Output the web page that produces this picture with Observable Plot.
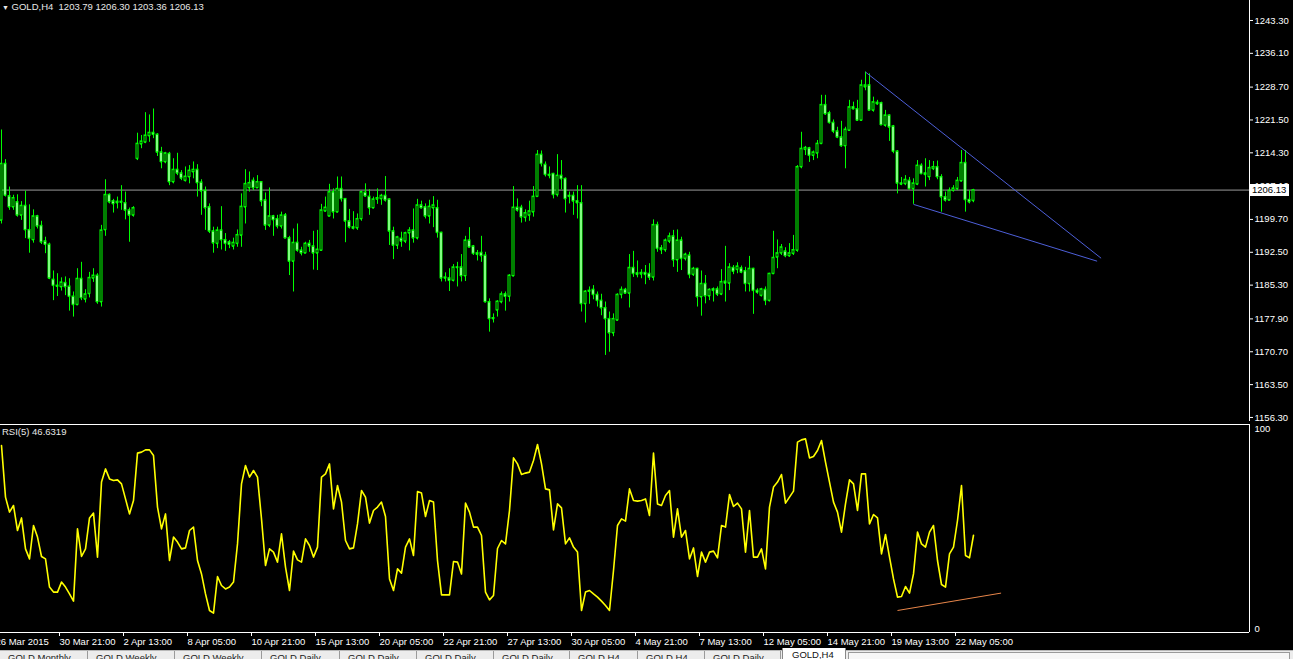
<!DOCTYPE html>
<html><head><meta charset="utf-8">
<script src="https://cdn.jsdelivr.net/npm/d3@7"></script>
<script src="https://cdn.jsdelivr.net/npm/@observablehq/plot@0.6"></script>
<style>
html,body{margin:0;padding:0;background:#000;width:1293px;height:659px;overflow:hidden;font-family:"Liberation Sans",Arial,sans-serif;}
#wrap{position:relative;width:1293px;height:659px;overflow:hidden;}
.abs{position:absolute;white-space:nowrap;}
.tab{position:absolute;top:0;height:12px;font-size:9.5px;color:#222;padding-left:8px;line-height:13px;border-right:1px solid #9a9a9a;box-sizing:border-box;}
</style></head><body><div id="wrap"></div>
<script>
// ---- data: GOLD H4 candles (bar index 0..243) ----
const open = [
1199.5,1211.9,1204.8,1202.4,1203.5,1200.6,1202.7,1197.4,1195.2,1200.4,
1198.3,1194.9,1194.2,1186.5,1185.2,1184.9,1185.8,1185.0,1182.8,1181.0,
1186.7,1182.2,1183.4,1186.8,1187.4,1181.6,1197.4,1205.1,1203.7,1203.3,
1203.6,1203.3,1201.7,1200.6,1213.0,1216.2,1216.6,1218.0,1218.7,1218.3,
1214.4,1212.3,1214.1,1207.9,1210.6,1209.8,1208.2,1209.0,1210.1,1210.6,
1207.8,1206.0,1202.4,1197.1,1194.4,1197.3,1195.2,1194.7,1193.8,1194.4,
1196.2,1202.4,1206.6,1208.2,1206.6,1207.9,1203.9,1198.4,1200.4,1199.8,
1198.2,1200.6,1195.6,1190.5,1194.6,1192.9,1192.3,1194.4,1193.8,1192.3,
1192.9,1201.5,1200.4,1205.7,1201.3,1206.4,1204.2,1199.3,1198.0,1197.8,
1199.8,1205.6,1204.7,1202.2,1204.1,1204.2,1204.9,1204.1,1197.1,1194.0,
1195.5,1194.9,1196.7,1197.3,1195.6,1202.8,1202.4,1200.4,1202.2,1202.2,
1196.8,1186.8,1186.8,1186.3,1189.2,1189.2,1187.3,1195.1,1193.8,1192.3,
1192.4,1191.8,1181.6,1177.9,1179.8,1181.6,1183.3,1182.8,1187.3,1202.3,
1202.3,1200.1,1200.6,1201.3,1204.7,1213.9,1211.7,1209.5,1209.7,1205.1,
1209.3,1208.6,1204.7,1204.9,1203.7,1203.3,1181.2,1183.9,1184.3,1183.2,
1181.9,1180.3,1177.9,1174.8,1177.6,1183.2,1184.3,1183.5,1189.1,1187.9,
1187.7,1188.0,1187.8,1187.0,1198.5,1193.4,1193.0,1194.9,1196.0,1190.8,
1195.1,1191.1,1191.8,1187.6,1188.9,1182.7,1185.6,1182.9,1184.4,1184.4,
1183.3,1186.1,1185.7,1189.1,1188.7,1189.0,1188.4,1185.6,1188.9,1184.1,
1183.0,1184.3,1181.9,1187.8,1191.4,1192.3,1192.7,1191.7,1192.2,1192.9,
1211.2,1215.0,1215.3,1213.7,1214.2,1216.3,1224.8,1223.0,1220.9,1219.0,
1217.7,1215.8,1219.2,1224.3,1223.9,1221.4,1228.7,1229.1,1223.6,1225.3,
1225.2,1220.3,1222.5,1220.1,1214.6,1207.6,1207.5,1208.2,1206.4,1207.4,
1211.5,1209.8,1209.0,1210.8,1211.2,1209.0,1204.6,1203.9,1206.0,1206.4,
1208.1,1212.1,1204.0,1203.79];
const high = [
1219.3,1212.8,1206.8,1205.0,1205.1,1203.6,1205.9,1202.9,1201.8,1200.6,
1199.3,1195.8,1194.5,1188.4,1187.8,1186.9,1187.1,1186.7,1183.8,1188.9,
1190.3,1184.3,1188.1,1188.9,1187.8,1198.4,1208.4,1205.3,1204.1,1204.6,
1207.1,1205.7,1202.2,1202.5,1218.6,1218.1,1223.1,1222.6,1223.9,1218.5,
1215.5,1214.4,1214.4,1213.0,1214.2,1210.4,1211.2,1211.5,1212.3,1211.7,
1208.4,1206.8,1203.1,1198.0,1198.0,1202.5,1196.6,1195.1,1195.6,1197.4,
1205.3,1210.6,1210.1,1208.8,1209.3,1208.0,1205.5,1206.6,1200.6,1200.6,
1201.3,1201.0,1196.0,1197.6,1198.7,1193.6,1194.7,1195.1,1197.1,1197.3,
1203.0,1204.6,1207.4,1206.4,1209.0,1209.0,1204.2,1201.9,1201.4,1200.9,
1205.9,1207.5,1206.2,1204.6,1206.4,1205.2,1209.1,1204.2,1198.0,1196.0,
1196.9,1196.9,1197.9,1202.0,1204.1,1203.7,1203.1,1203.9,1204.7,1203.9,
1196.9,1188.0,1188.9,1189.8,1190.3,1192.0,1196.0,1197.9,1194.0,1192.9,
1196.0,1192.5,1182.3,1179.0,1181.9,1183.8,1183.8,1187.6,1206.9,1204.2,
1202.8,1201.8,1203.7,1206.9,1214.8,1214.7,1212.3,1211.2,1209.8,1213.9,
1212.6,1208.8,1205.7,1205.7,1207.1,1207.1,1184.1,1184.9,1185.2,1183.8,
1183.3,1181.6,1179.4,1179.0,1183.4,1184.9,1184.6,1192.0,1192.7,1190.6,
1188.7,1189.6,1190.0,1199.6,1199.1,1194.0,1195.4,1196.7,1197.3,1197.4,
1195.8,1192.3,1192.5,1189.2,1189.0,1188.4,1187.4,1184.5,1184.7,1184.9,
1188.7,1193.8,1190.0,1189.6,1190.2,1189.5,1189.2,1191.6,1189.0,1184.5,
1184.6,1184.9,1187.9,1197.1,1195.2,1194.2,1193.5,1194.4,1196.2,1211.5,
1218.8,1215.7,1215.5,1214.7,1217.0,1226.9,1226.9,1223.4,1221.5,1219.9,
1221.2,1219.9,1225.8,1225.4,1225.8,1230.2,1232.0,1231.6,1226.5,1225.8,
1225.4,1223.6,1222.6,1220.3,1214.8,1208.9,1209.3,1208.9,1208.6,1212.6,
1211.9,1213.0,1212.6,1212.4,1212.5,1209.5,1205.7,1206.6,1207.1,1208.9,
1214.8,1214.8,1206.0,1206.30];
const low = [
1198.7,1204.6,1201.7,1201.7,1200.2,1199.5,1195.5,1192.3,1194.5,1197.6,
1194.2,1192.2,1186.5,1181.9,1182.8,1184.0,1183.0,1179.6,1178.3,1180.8,
1181.9,1181.4,1182.5,1185.9,1181.1,1180.5,1196.0,1203.1,1201.1,1202.0,
1201.7,1199.6,1194.7,1200.2,1212.6,1215.2,1216.3,1216.6,1217.4,1213.5,
1210.8,1211.9,1207.1,1207.5,1209.3,1208.2,1207.9,1207.5,1208.6,1204.6,
1200.6,1197.3,1196.6,1192.3,1193.3,1193.0,1192.7,1193.3,1193.0,1193.6,
1193.6,1198.7,1205.7,1206.0,1206.6,1202.5,1197.3,1197.9,1196.0,1197.6,
1197.6,1195.5,1187.4,1183.8,1192.5,1191.7,1192.2,1192.5,1188.6,1188.5,
1192.8,1201.3,1200.3,1199.8,1201.1,1203.5,1194.6,1197.6,1197.4,1197.3,
1199.3,1204.6,1200.6,1202.0,1203.0,1202.8,1203.5,1194.0,1190.9,1193.1,
1193.6,1194.4,1192.8,1194.5,1195.2,1202.0,1199.8,1198.7,1197.9,1195.6,
1186.0,1186.0,1183.9,1186.0,1184.9,1186.0,1186.1,1193.5,1191.8,1190.6,
1190.3,1181.4,1175.0,1177.0,1178.3,1181.2,1179.6,1181.6,1187.1,1201.3,
1198.9,1199.1,1199.3,1200.2,1204.6,1211.2,1209.0,1208.6,1204.2,1204.6,
1206.2,1201.1,1203.1,1200.6,1199.8,1179.4,1177.0,1181.1,1182.1,1180.5,
1178.6,1169.9,1170.6,1174.0,1177.4,1182.3,1183.3,1180.3,1187.0,1186.9,
1186.7,1185.4,1186.3,1186.2,1192.5,1192.0,1192.5,1194.4,1189.2,1188.1,
1188.5,1190.6,1186.7,1187.2,1180.5,1178.5,1181.2,1181.9,1181.6,1182.8,
1183.0,1181.6,1184.1,1187.6,1187.8,1187.8,1183.8,1183.8,1178.9,1183.3,
1182.7,1180.8,1181.6,1187.6,1188.9,1191.8,1191.3,1191.4,1191.8,1192.5,
1210.8,1213.7,1212.2,1212.6,1213.0,1216.1,1222.5,1220.6,1218.5,1217.4,
1215.5,1210.8,1219.0,1223.7,1221.2,1221.2,1227.9,1223.6,1223.2,1224.7,
1220.3,1219.9,1216.8,1214.1,1205.3,1207.1,1207.1,1206.2,1203.0,1207.1,
1209.5,1206.8,1208.2,1210.4,1208.4,1201.3,1203.5,1203.9,1205.7,1206.0,
1207.9,1201.3,1203.1,1203.36];
const close = [
1211.9,1204.95,1202.4,1204.4,1200.6,1202.7,1197.4,1195.5,1200.4,1198.2,
1194.7,1194.2,1186.8,1185.2,1185.0,1185.9,1184.9,1182.8,1181.0,1186.7,
1182.5,1183.3,1186.9,1187.4,1181.6,1197.3,1205.1,1203.5,1203.1,1203.6,
1203.4,1201.7,1200.6,1202.2,1216.3,1216.8,1218.1,1218.7,1218.3,1214.4,
1212.3,1214.2,1207.9,1210.6,1209.8,1208.7,1209.1,1210.4,1210.6,1207.7,
1205.9,1202.2,1197.1,1194.5,1197.3,1195.2,1194.4,1194.2,1194.6,1196.3,
1202.5,1207.5,1207.7,1206.6,1207.9,1203.7,1198.4,1200.4,1199.6,1198.2,
1200.6,1195.6,1190.5,1194.6,1192.9,1192.3,1194.4,1193.8,1192.3,1193.1,
1201.7,1202.3,1205.7,1201.3,1206.4,1204.2,1199.3,1198.0,1197.7,1199.8,
1205.7,1204.8,1202.2,1204.1,1204.4,1204.9,1203.9,1197.1,1194.0,1195.8,
1194.9,1196.7,1197.3,1195.6,1202.8,1202.2,1200.4,1202.5,1202.8,1196.8,
1186.8,1187.0,1186.3,1189.2,1189.1,1187.3,1195.1,1193.6,1192.2,1192.0,
1191.7,1181.6,1177.9,1178.1,1181.7,1183.3,1182.8,1187.4,1202.3,1201.7,
1200.2,1201.1,1201.5,1204.7,1213.9,1211.9,1209.5,1209.3,1205.1,1209.3,
1208.6,1204.2,1204.9,1203.7,1203.3,1181.2,1183.9,1184.1,1183.2,1181.9,
1180.3,1177.9,1174.8,1177.9,1183.2,1184.3,1183.5,1189.1,1187.8,1187.6,
1188.0,1187.6,1187.0,1198.5,1193.3,1193.0,1195.1,1196.0,1190.8,1195.1,
1191.1,1192.0,1187.6,1188.9,1182.7,1185.6,1182.9,1184.3,1184.1,1183.3,
1186.0,1185.7,1189.2,1188.3,1189.4,1188.1,1185.6,1188.9,1184.1,1183.7,
1184.4,1181.9,1187.8,1191.3,1192.3,1193.6,1191.7,1192.3,1193.0,1211.2,
1215.2,1215.4,1213.7,1214.4,1216.3,1224.8,1222.8,1220.9,1219.0,1217.7,
1215.8,1219.4,1224.3,1223.9,1221.4,1229.1,1229.1,1223.6,1225.4,1225.0,
1220.4,1222.5,1219.9,1214.6,1207.6,1207.4,1208.4,1206.4,1207.6,1211.5,
1209.7,1209.5,1211.0,1211.2,1209.0,1204.6,1203.9,1206.0,1206.5,1208.2,
1212.1,1204.0,1203.5,1206.13];
// RSI(5) values per bar
const rsi = [
91.5,65.7,58.2,61.5,49,55.3,39.8,34.8,51.5,45.7,
36,34.8,20.7,18.2,18.2,23.2,20.7,17.3,13.7,49.8,
36,39.8,55.3,57.7,35.7,73.2,79.8,74.8,74,74.3,
72.3,64.8,57.3,64,87.7,88.2,89.3,89.3,86.5,60.7,
49.8,57.3,34,45.7,43.2,39.8,40.3,49,50.7,34,
27.3,17.3,9,7.7,26,21.5,19.8,20.7,23.2,42.3,
72.3,81.5,75.7,79,75.7,54.8,31.5,39.8,38.2,33.2,
47.3,30.7,19,38.7,34.3,33.2,44.8,41.5,35.7,40.7,
75.7,77.3,82.3,59.8,71.5,63.2,44,39.8,40.3,52.3,
69,65.7,52.7,59,60.7,63.2,56,24.8,19,29.8,
27.7,40.7,44.8,36.5,68.5,67.7,56,64,63.2,34,
16.8,16.8,16.8,33.5,33.2,27.3,62.7,58.2,50.7,50.7,
46.5,18.2,14.3,16.5,40,44,42.3,59,85.3,82.3,
77,77.7,78.2,84,92,82.3,69.8,69.3,49.3,62.3,
60.3,42.3,45.3,40.7,38.2,9,18.2,19,17.3,15.7,
13.7,11.5,9,29,51.5,54.8,53.7,69.8,64,63.7,
64,64.8,56.5,87.7,62.3,61.5,66.5,69,45.7,59.8,
45.7,49,34.8,40.3,26,38.2,33.2,38.2,38.7,35.3,
51.5,50.7,67,61,62.7,59.8,38.2,59,35.7,35.7,
39.8,29.8,60.7,70.7,73.2,77,62.7,65.7,68.7,93.2,
94.3,94.8,85.3,86,89,94,83.2,73.2,63.2,58.2,
48.2,62.3,74.3,72.3,59,77.3,77.3,52.3,57,55.3,
37.3,47,35.7,24.8,15.7,16,21,17.7,27.3,48.2,
42.3,40.7,48.2,51.5,34,22,20.7,37.3,40.7,54,
71.5,36.5,35.3,46.63];
// axis ticks
const priceTicks = [1243.30,1236.10,1228.70,1221.50,1214.30,1207.10,1199.70,1192.50,1185.30,1177.90,1170.70,1163.50,1156.30];
const timeTickBars = [-2,14,30,46,62,78,94,110,126,142,158,174,190,206,222,238];
const timeTickLabels = ["26 Mar 2015","30 Mar 21:00","2 Apr 13:00","8 Apr 05:00","10 Apr 21:00","15 Apr 13:00","20 Apr 05:00","22 Apr 21:00","27 Apr 13:00","30 Apr 05:00","4 May 21:00","7 May 13:00","12 May 05:00","14 May 21:00","19 May 13:00","22 May 05:00"];
const rsiTicks = [0, 100];
// drawn objects (bar index, value)
const wedgeBar1 = [216, 228];
const wedgePrice1 = [1232.0, 1203.0];
const wedgeBar2 = [274.9, 273.9];
const wedgePrice2 = [1191.2, 1190.55];
const rsiTrendBar = [224, 249.9];
const rsiTrendValue = [9, 17.7];
const header = "GOLD,H4  1203.79 1206.30 1203.36 1206.13";
const rsiTitle = "RSI(5) 46.6319";
const tabs = ["GOLD,Monthly","GOLD,Weekly","GOLD,Weekly","GOLD,Daily","GOLD,Daily","GOLD,Daily","GOLD,Daily","GOLD,H4","GOLD,H4","GOLD,Daily","GOLD,H4"];

const candles = open.map((o, i) => ({i, open: o, high: high[i], low: low[i], close: close[i], up: close[i] >= o}));
const rsiData = rsi.map((v, i) => ({i, v}));
const lastClose = close[close.length - 1];
const wedge = wedgeBar1.map((b, j) => ({x1: b, y1: wedgePrice1[j], x2: wedgeBar2[j], y2: wedgePrice2[j]}));
const rsiTrend = [{x1: rsiTrendBar[0], y1: rsiTrendValue[0], x2: rsiTrendBar[1], y2: rsiTrendValue[1]}];
const labelOf = new Map(timeTickBars.map((b, j) => [b, timeTickLabels[j]]));

const LIME = "#00ff00";
const FONT = "'Liberation Sans', Arial, sans-serif";
const xDomain = [-0.25, 312];
const pxPerDollar = 4.563;
const topPrice = 1247.68;
const yDomain = [topPrice - 421 / pxPerDollar, topPrice];

const wrap = document.getElementById("wrap");

const main = Plot.plot({
  width: 1293, height: 422,
  marginTop: 0, marginBottom: 1, marginLeft: 0, marginRight: 44,
  style: {background: "black", color: "white", fontFamily: FONT, fontSize: "9.5px", overflow: "visible"},
  x: {domain: xDomain, axis: null},
  y: {domain: yDomain, axis: null},
  marks: [
    Plot.ruleY([lastClose], {stroke: "#9a9a9a", strokeWidth: 1}),
    Plot.ruleX(candles, {x: "i", y1: "low", y2: "high", stroke: LIME, strokeWidth: 1}),
    Plot.rect(candles.filter(d => d.up), {x1: d => d.i - 0.25, x2: d => d.i + 0.25, y1: "open", y2: "close", fill: "black", stroke: LIME, strokeWidth: 1}),
    Plot.rect(candles.filter(d => !d.up), {x1: d => d.i - 0.25, x2: d => d.i + 0.25, y1: "open", y2: "close", fill: "white", stroke: LIME, strokeWidth: 1}),
    Plot.ruleY(candles, {y: "open", x1: d => d.i - 0.25, x2: d => d.i + 0.25, stroke: LIME}),
    Plot.ruleY(candles, {y: "close", x1: d => d.i - 0.25, x2: d => d.i + 0.25, stroke: LIME}),
    Plot.link(wedge, {x1: "x1", y1: "y1", x2: "x2", y2: "y2", stroke: "#4d5fd8", strokeWidth: 1}),
    Plot.axisY({anchor: "right", ticks: priceTicks, tickFormat: d => d.toFixed(2), tickSize: 3, tickPadding: 2, label: null, color: "white", stroke: "white"}),
    Plot.ruleX([xDomain[1]], {stroke: "white"}),
    Plot.ruleY([yDomain[0]], {stroke: "white"})
  ]
});
main.style.position = "absolute"; main.style.left = "0px"; main.style.top = "0px";
wrap.appendChild(main);

const rsiPlot = Plot.plot({
  width: 1293, height: 238,
  marginTop: 3, marginBottom: 27, marginLeft: 0, marginRight: 44,
  style: {background: "black", color: "white", fontFamily: FONT, fontSize: "9.5px", overflow: "visible"},
  x: {domain: xDomain, axis: null},
  y: {domain: [-2, 102], axis: null},
  marks: [
    Plot.line(rsiData, {x: "i", y: "v", stroke: "#ffff00", strokeWidth: 1.6}),
    Plot.link(rsiTrend, {x1: "x1", y1: "y1", x2: "x2", y2: "y2", stroke: "#e8864a", strokeWidth: 1}),
    Plot.ruleY([102], {stroke: "white"}),
    Plot.ruleY([-2], {stroke: "white"}),
    Plot.ruleX([xDomain[1]], {stroke: "white"}),
    Plot.axisY({anchor: "right", ticks: rsiTicks, tickFormat: d => String(d), tickSize: 0, tickPadding: 5, label: null, color: "white"}),
    Plot.axisX({anchor: "bottom", ticks: timeTickBars, tickFormat: d => labelOf.get(d), tickSize: 4, tickPadding: 2, textAnchor: "start", dx: 2, label: null, color: "white", stroke: "white"})
  ]
});
rsiPlot.style.position = "absolute"; rsiPlot.style.left = "0px"; rsiPlot.style.top = "421px";
wrap.appendChild(rsiPlot);

// header texts
const h = document.createElement("div");
h.className = "abs";
h.style.cssText = "left:2px;top:0px;color:#e8e8e8;font-size:9.5px;line-height:13px;";
h.innerHTML = '<span style="font-size:7px;">&#9660;</span>&nbsp;' + header.replace(/ /g, "&nbsp;");
wrap.appendChild(h);

const r = document.createElement("div");
r.className = "abs";
r.style.cssText = "left:2px;top:425px;color:#e8e8e8;font-size:9.5px;line-height:13px;";
r.textContent = rsiTitle;
wrap.appendChild(r);

// current price marker on price scale
const yS = main.scale("y");
const py = yS.apply(lastClose);
const box = document.createElement("div");
box.className = "abs";
box.style.cssText = `left:1250px;top:${Math.round(py - 6)}px;width:39px;height:12px;background:#fff;color:#000;font-size:9.5px;line-height:12px;padding-left:2px;box-sizing:border-box;`;
box.textContent = lastClose.toFixed(2);
wrap.appendChild(box);

// bottom tab bar
const bar = document.createElement("div");
bar.className = "abs";
bar.style.cssText = "left:0;top:650px;width:1293px;height:9px;background:#ececec;border-top:1px solid #b8b8b8;overflow:hidden;";
const tabLefts = [0, 88, 175, 262, 340, 417, 494, 570, 638, 705];
tabs.slice(0, 10).forEach((t, j) => {
  const d = document.createElement("div");
  d.className = "tab";
  d.style.left = tabLefts[j] + "px";
  d.style.width = ((j < 9 ? tabLefts[j + 1] : 781) - tabLefts[j]) + "px";
  d.textContent = t;
  bar.appendChild(d);
});
wrap.appendChild(bar);
const act = document.createElement("div");
act.className = "abs";
act.style.cssText = "left:782px;top:648px;width:64px;height:11px;background:#fff;border-left:1px solid #888;border-right:1px solid #888;font-size:9.5px;line-height:14px;color:#111;padding-left:9px;box-sizing:border-box;";
act.textContent = tabs[10];
wrap.appendChild(act);
const rest = document.createElement("div");
rest.className = "abs";
rest.style.cssText = "left:848px;top:652px;width:442px;height:10px;background:#f7f7f7;border:1px solid #9a9a9a;box-sizing:border-box;";
wrap.appendChild(rest);
</script>
</body></html>
